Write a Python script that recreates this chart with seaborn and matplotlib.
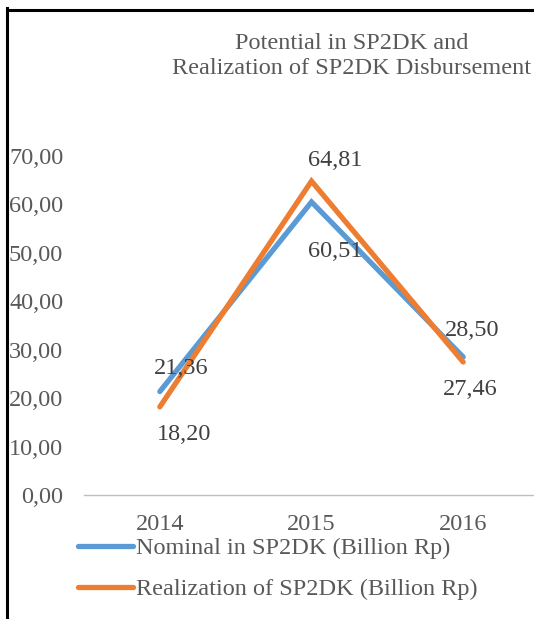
import matplotlib
matplotlib.use("Agg")
import matplotlib.pyplot as plt
from matplotlib.lines import Line2D
import seaborn as sns
import pandas as pd

years = ["2014", "2015", "2016"]
nominal = [21.36, 60.51, 28.50]
realization = [18.20, 64.81, 27.46]
series_names = ["Nominal in SP2DK (Billion Rp)", "Realization of SP2DK (Billion Rp)"]
yticks = [0, 10, 20, 30, 40, 50, 60, 70]
title = "Potential in SP2DK and\nRealization of SP2DK Disbursement"

df = pd.DataFrame({
    "year": years * 2,
    "value": nominal + realization,
    "series": [series_names[0]] * 3 + [series_names[1]] * 3,
})

sns.set_theme(style="white")
plt.rcParams["font.family"] = ["Liberation Serif", "DejaVu Serif"]

FS = 17.5
GRAY = "#595959"
DARK = "#404040"
BLUE = "#5B9BD5"
ORANGE = "#ED7D31"

fig = plt.figure(figsize=(5.34, 6.19), dpi=100)
ax = fig.add_axes([84 / 534, (619 - 495) / 619, 455 / 534, 339 / 619])

sns.lineplot(data=df, x="year", y="value", hue="series", palette=[BLUE, ORANGE],
             lw=3.8, ax=ax, legend=False, sort=False)
for ln in ax.get_lines():
    ln.set_solid_capstyle("round")
    ln.set_solid_joinstyle("miter")

ax.set_xlim(-0.5, 2.5)
ax.set_ylim(0, 70)
ax.set_yticks(yticks)
ax.set_yticklabels([f"{v:.2f}".replace(".", ",") for v in yticks])
ax.set_xlabel("")
ax.set_ylabel("")
ax.tick_params(axis="y", length=0, pad=15, labelsize=FS, labelcolor=GRAY)
ax.tick_params(axis="x", length=0, pad=14, labelsize=FS, labelcolor=GRAY)
for s in ["left", "right", "top"]:
    ax.spines[s].set_visible(False)
ax.spines["bottom"].set_color("#BFBFBF")
ax.spines["bottom"].set_linewidth(1.0)
ax.patch.set_alpha(0)

def fmt(v):
    return f"{v:.2f}".replace(".", ",")

# data labels (offsets in pixels)
nom_off = [(21, 23), (24, -50), (9, 26)]
real_off = [(24, -28), (24, 21), (7, -27)]
for i, (v, off) in enumerate(zip(nominal, nom_off)):
    ax.annotate(fmt(v), (i, v), xytext=off, textcoords="offset pixels",
                ha="center", va="center", fontsize=FS, color=DARK)
for i, (v, off) in enumerate(zip(realization, real_off)):
    ax.annotate(fmt(v), (i, v), xytext=off, textcoords="offset pixels",
                ha="center", va="center", fontsize=FS, color=DARK)

fig.text(352 / 534, 1 - 56 / 619, title, ha="center", va="center",
         multialignment="center", fontsize=FS, color=GRAY, linespacing=1.3)

handles = [Line2D([0], [0], color=BLUE, lw=3.8, solid_capstyle="round"),
           Line2D([0], [0], color=ORANGE, lw=3.8, solid_capstyle="round")]
leg = fig.legend(handles, series_names, loc="upper left",
                 bbox_to_anchor=(78 / 534, 1 - 537 / 619), frameon=False,
                 fontsize=FS, handlelength=2.25, handletextpad=0.15,
                 labelspacing=0.8, borderpad=0, borderaxespad=0)
for t in leg.get_texts():
    t.set_color(GRAY)

# outer frame (left and top)
fig.add_artist(Line2D([6.5 / 534, 6.5 / 534], [0, 1 - 8 / 619], color="black",
                      lw=2.2, transform=fig.transFigure, solid_capstyle="projecting"))
fig.add_artist(Line2D([6.5 / 534, 1], [1 - 9.5 / 619, 1 - 9.5 / 619], color="black",
                      lw=2.2, transform=fig.transFigure))

fig.savefig("out.png", dpi=100)
